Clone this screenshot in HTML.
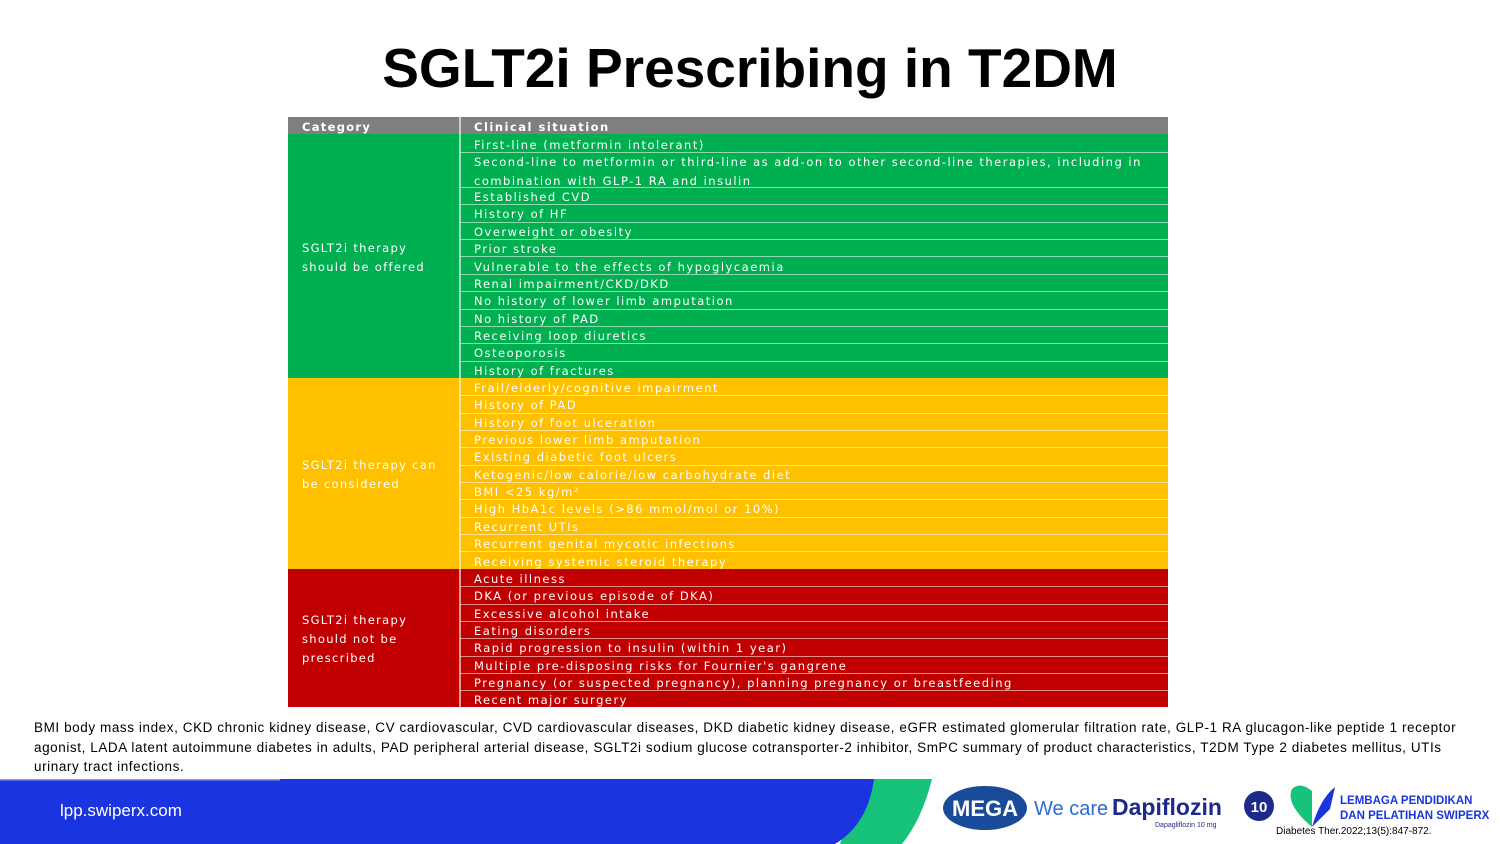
<!DOCTYPE html>
<html><head><meta charset="utf-8"><style>
body{margin:0;width:1500px;height:844px;background:#fff;position:relative;overflow:hidden;font-family:"Liberation Sans",sans-serif}
h1{position:absolute;top:36px;left:0;width:1500px;text-align:center;margin:0;font-size:55px;font-weight:bold;color:#000}
.t{position:absolute;left:288px;top:117px;width:880px;height:590px}
.b{position:absolute;left:0;width:880px}
.l{position:absolute;left:172px;width:708px;height:17.35px;color:#fff;font-family:"DejaVu Sans",sans-serif;font-size:11.5px;line-height:19px;padding-left:14px;box-sizing:border-box;letter-spacing:1.5px;border-bottom:1px solid rgba(255,255,255,0.55);white-space:nowrap;overflow:hidden}
.c{position:absolute;left:14px;color:#fff;font-family:"DejaVu Sans",sans-serif;font-size:11.5px;line-height:19px;letter-spacing:1.3px}
.v{position:absolute;left:171px;width:2px;background:rgba(255,255,255,0.6)}
.note{position:absolute;left:34px;top:718px;width:1450px;font-size:13.5px;line-height:19.5px;color:#000;letter-spacing:0.58px;white-space:nowrap}
</style></head><body>
<h1>SGLT2i Prescribing in T2DM</h1>
<div class="t">
<div class="b" style="top:0;height:17px;background:#7f7f7f"></div>
<div class="b" style="top:17px;height:244px;background:#00b050"></div>
<div class="b" style="top:261px;height:191px;background:#ffc000"></div>
<div class="b" style="top:452px;height:138px;background:#c00000"></div>
<div class="v" style="top:0;height:590px"></div>
<div class="c" style="top:1px;font-weight:bold">Category</div>
<div class="l" style="top:1px;font-weight:bold;border:0">Clinical situation</div>
<div class="c" style="top:122px">SGLT2i therapy<br>should be offered</div>
<div class="c" style="top:339px">SGLT2i therapy can<br>be considered</div>
<div class="c" style="top:494px">SGLT2i therapy<br>should not be<br>prescribed</div>
<div class="l" style="top:19px">First-line (metformin intolerant)</div>
<div class="l" style="top:36.4px;height:34.7px">Second-line to metformin or third-line as add-on to other second-line therapies, including in<br>combination with GLP-1 RA and insulin</div>
<div class="l" style="top:71.1px">Established CVD</div>
<div class="l" style="top:88.4px">History of HF</div>
<div class="l" style="top:105.8px">Overweight or obesity</div>
<div class="l" style="top:123.1px">Prior stroke</div>
<div class="l" style="top:140.5px">Vulnerable to the effects of hypoglycaemia</div>
<div class="l" style="top:157.8px">Renal impairment/CKD/DKD</div>
<div class="l" style="top:175.2px">No history of lower limb amputation</div>
<div class="l" style="top:192.5px">No history of PAD</div>
<div class="l" style="top:209.9px">Receiving loop diuretics</div>
<div class="l" style="top:227.2px">Osteoporosis</div>
<div class="l" style="top:244.6px;border:0">History of fractures</div>
<div class="l" style="top:262px">Frail/elderly/cognitive impairment</div>
<div class="l" style="top:279.3px">History of PAD</div>
<div class="l" style="top:296.7px">History of foot ulceration</div>
<div class="l" style="top:314px">Previous lower limb amputation</div>
<div class="l" style="top:331.4px">Existing diabetic foot ulcers</div>
<div class="l" style="top:348.7px">Ketogenic/low calorie/low carbohydrate diet</div>
<div class="l" style="top:366.1px">BMI &lt;25 kg/m²</div>
<div class="l" style="top:383.4px">High HbA1c levels (&gt;86 mmol/mol or 10%)</div>
<div class="l" style="top:400.8px">Recurrent UTIs</div>
<div class="l" style="top:418.1px">Recurrent genital mycotic infections</div>
<div class="l" style="top:435.5px;border:0">Receiving systemic steroid therapy</div>
<div class="l" style="top:452.8px">Acute illness</div>
<div class="l" style="top:470.2px">DKA (or previous episode of DKA)</div>
<div class="l" style="top:487.5px">Excessive alcohol intake</div>
<div class="l" style="top:504.9px">Eating disorders</div>
<div class="l" style="top:522.2px">Rapid progression to insulin (within 1 year)</div>
<div class="l" style="top:539.6px">Multiple pre-disposing risks for Fournier's gangrene</div>
<div class="l" style="top:556.9px">Pregnancy (or suspected pregnancy), planning pregnancy or breastfeeding</div>
<div class="l" style="top:574.3px;border:0">Recent major surgery</div>
</div>
<div class="note">BMI body mass index, CKD chronic kidney disease, CV cardiovascular, CVD cardiovascular diseases, DKD diabetic kidney disease, eGFR estimated glomerular filtration rate, GLP-1 RA glucagon-like peptide 1 receptor<br>agonist, LADA latent autoimmune diabetes in adults, PAD peripheral arterial disease, SGLT2i sodium glucose cotransporter-2 inhibitor, SmPC summary of product characteristics, T2DM Type 2 diabetes mellitus, UTIs<br>urinary tract infections.</div>
<svg style="position:absolute;left:0;top:779px" width="1500" height="65">
<path d="M860 0 L932 0 Q922 40 902 65 L840 65 Z" fill="#17c27a"/>
<path d="M0 0 L874 0 Q868 45 835 65 L0 65 Z" fill="#1a35e0"/>
<rect x="0" y="0" width="280" height="1.5" fill="#8a9be8"/>
<text x="60" y="37" fill="#fff" font-size="17" font-family="Liberation Sans">lpp.swiperx.com</text>
<ellipse cx="985" cy="29" rx="42" ry="22" fill="#1a4a9a"/>
<text x="985" y="37" fill="#fff" font-size="22" font-weight="bold" text-anchor="middle" font-family="Liberation Sans">MEGA</text>
<text x="1034" y="36" fill="#2e6ad8" font-size="20" font-family="Liberation Sans">We care</text>
<text x="1112" y="36" fill="#1e2a8a" font-size="23" font-weight="bold" font-family="Liberation Sans">Dapiflozin</text>
<text x="1155" y="48" fill="#1e2a8a" font-size="7" font-family="Liberation Sans">Dapagliflozin 10 mg</text>
<circle cx="1259" cy="27" r="15" fill="#1e2a8a"/>
<text x="1259" y="33" fill="#fff" font-size="15" font-weight="bold" text-anchor="middle" font-family="Liberation Sans">10</text>
<path d="M1312 48 Q1285 25 1292 10 Q1300 2 1312 12 Z" fill="#17c27a"/>
<path d="M1312 48 Q1320 20 1335 8 L1330 30 Z" fill="#1a35e0"/>
<text x="1340" y="25" fill="#1a35e0" font-size="11.5" font-weight="bold" font-family="Liberation Sans">LEMBAGA PENDIDIKAN</text>
<text x="1340" y="40" fill="#1a35e0" font-size="11.5" font-weight="bold" font-family="Liberation Sans">DAN PELATIHAN SWIPERX</text>
<text x="1276" y="55" fill="#000" font-size="10" font-family="Liberation Sans">Diabetes Ther.2022;13(5):847-872.</text>
</svg>
</body></html>
